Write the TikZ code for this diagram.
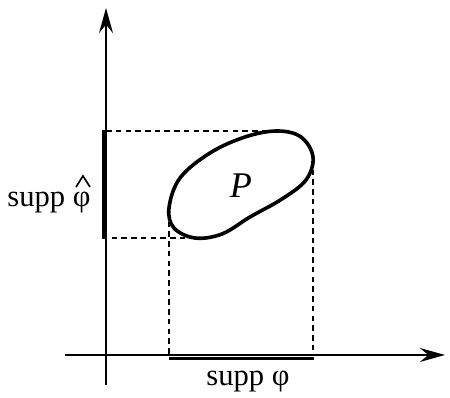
\documentclass[tikz,border=0pt]{standalone}
\usepackage{fontspec}
\setmainfont{Liberation Serif}
\usetikzlibrary{arrows.meta}
\tikzset{
	axis/.style={line width=0.8pt, -{Stealth[length=9pt, width=5pt, inset=3pt]}},
	suppbar/.style={line width=1.2pt},
	guide/.style={line width=0.4pt, dash pattern=on 2pt off 1.5pt},
	lbl/.style={font=\fontsize{11}{13}\selectfont, inner sep=0pt}
}
\begin{document}
\begin{tikzpicture}[x=0.36pt, y=-0.36pt]
	\useasboundingbox (0,0) rectangle (450,398);
	% axes
	\coordinate (xs) at (65,355);
	\coordinate (xe) at (445,355);
	\coordinate (ys) at (106,385);
	\coordinate (ye) at (106,8);
	\draw[axis] (xs) -- (xe);
	\draw[axis] (ys) -- (ye);
	% the set P
	\draw[line width=1.3pt] plot[smooth cycle, tension=0.6] coordinates {
		(277,131) (301,137) (313,157) (306,180) (282,199) (250,217)
		(222,234) (195,238) (174,228) (169,208) (180,178) (210,153) (245,137)};
	\node[font=\itshape\fontsize{13}{13}\selectfont, inner sep=0pt] (P) at (241,186) {P};
	% projections of P
	\coordinate (top) at (277,131);
	\coordinate (bot) at (195,238);
	\coordinate (lft) at (169,212);
	\coordinate (rgt) at (313,160);
	\draw[guide] (top) -- (106,131);
	\draw[guide] (bot) -- (106,238);
	\draw[guide] (lft) -- (169,355);
	\draw[guide] (rgt) -- (313,355);
	% supports on the axes
	\coordinate (v1) at (103.5,130);
	\coordinate (v2) at (103.5,239);
	\coordinate (h1) at (169,358.5);
	\coordinate (h2) at (314,358.5);
	\draw[suppbar] (v1) -- (v2);
	\draw[suppbar] (h1) -- (h2);
	\node[lbl, anchor=base east] (supphat) at (91,207) {supp φ};
	\node[lbl] (supp) at (248,382) {supp φ};
	% hat over phi
	\draw[line width=0.6pt] ([shift={(-15,-20)}]supphat.base east)
		-- ([shift={(-8,-31)}]supphat.base east)
		-- ([shift={(-1,-20)}]supphat.base east);
\end{tikzpicture}
\end{document}
